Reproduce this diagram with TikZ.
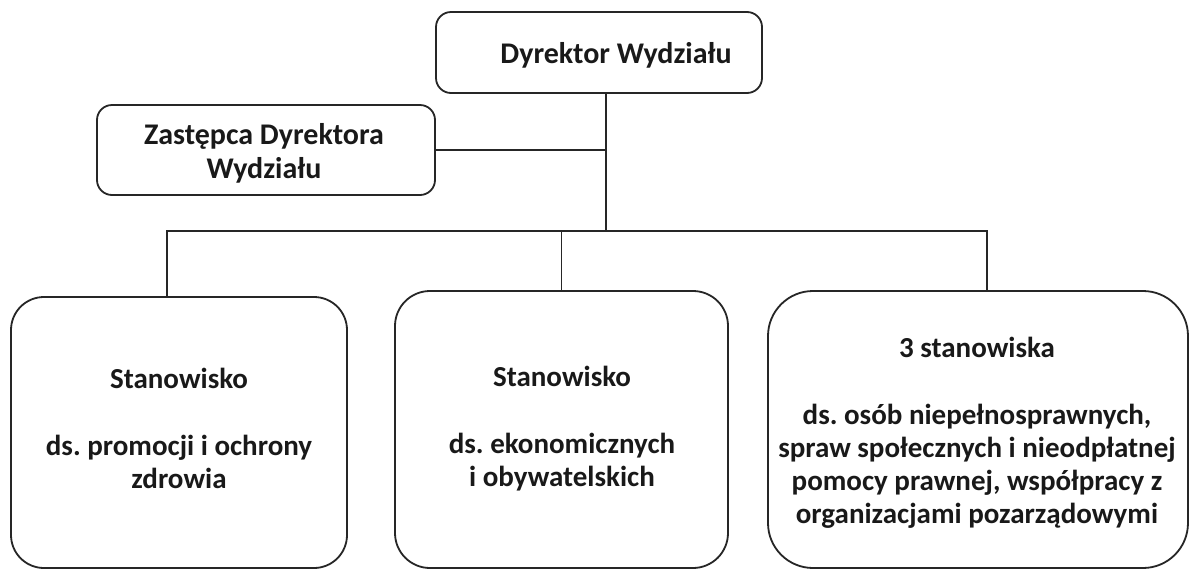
\documentclass[tikz,border=0pt]{standalone}
\usepackage{fontspec}
\setmainfont{Carlito}
\frenchspacing
\begin{document}
\begin{tikzpicture}[x=1pt,y=1pt,
  box/.style={draw=black!85, line width=1.8pt, fill=none, inner sep=0pt},
  txt/.style={align=center, inner sep=0pt, text=black!90,
    font=\fontsize{29pt}{33pt}\selectfont\bfseries},
  bigtxt/.style={txt, font=\fontsize{30pt}{34.5pt}\selectfont\bfseries},
  conn/.style={draw=black!85, line width=1.8pt}]
\useasboundingbox[fill=white] (0,0) rectangle (1192,-571);
% boxes
\node[box, rounded corners=15pt, minimum width=326pt, minimum height=81pt] (top) at (599,-52.5) {};
\node[box, rounded corners=15pt, minimum width=338pt, minimum height=90pt] (dep) at (266,-150) {};
\node[box, rounded corners=33pt, minimum width=336pt, minimum height=271pt] (b1) at (179,-432.5) {};
\node[box, rounded corners=35pt, minimum width=333pt, minimum height=277pt] (b2) at (561.5,-429.5) {};
\node[box, rounded corners=45pt, minimum width=420pt, minimum height=277pt] (b3) at (978,-429.5) {};
% texts
\node[bigtxt] (ttop) at (616,-57) {\strut Dyrektor Wydziału\strut};
\node[bigtxt] (tdep) at (264,-154.5) {\strut Zastępca Dyrektora\\Wydziału\strut};
\node[txt] (tb1) at (179,-432) {\strut Stanowisko\\[34pt]ds. promocji i ochrony\\zdrowia\strut};
\node[txt] (tb2) at (562,-430) {\strut Stanowisko\\[34pt]ds. ekonomicznych\\i obywatelskich\strut};
\node[txt] (tb3) at (977,-434) {\strut 3 stanowiska\\[34pt]ds. osób niepełnosprawnych,\\spraw społecznych i nieodpłatnej\\pomocy prawnej, współpracy z\\organizacjami pozarządowymi\strut};
% connectors
\coordinate (j) at (606,-230);
\coordinate (bl) at (167,-231);
\coordinate (br) at (987,-231);
\draw[conn] (top.south -| j) -- (j);
\draw[conn] (dep.east) -- (dep.east -| j);
\draw[conn] (b1.north -| bl) -- (bl) -- (br) -- (b3.north -| br);
\draw[conn] (b2.north) -- (b2.north |- bl);
\end{tikzpicture}
\end{document}
